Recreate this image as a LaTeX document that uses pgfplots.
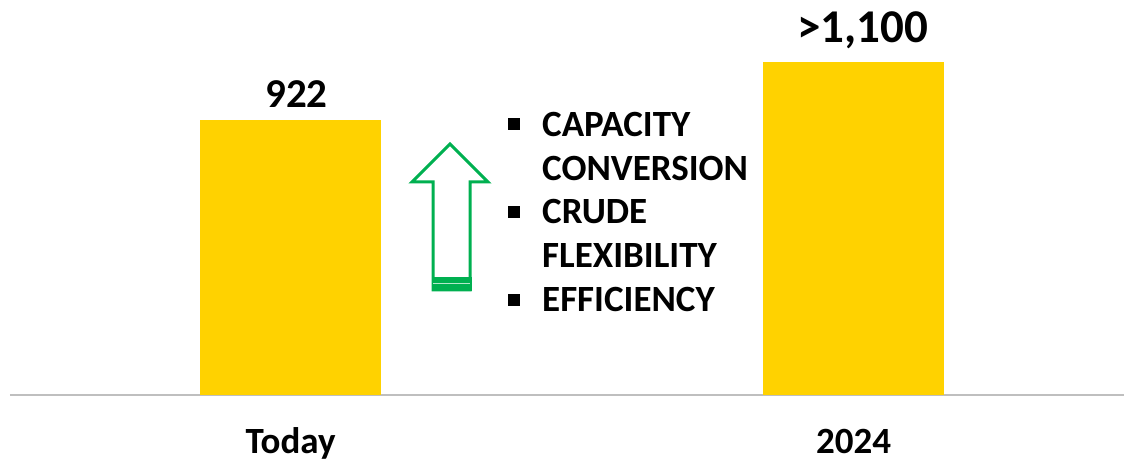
\documentclass[border=0pt]{standalone}
\usepackage{pgfplots}
\pgfplotsset{compat=1.18}
\usepackage{fontspec}
\setmainfont{Carlito}
\definecolor{baryellow}{HTML}{FFD200}
\definecolor{arrowgreen}{HTML}{00B050}
\definecolor{basegray}{HTML}{BFBFBF}
\begin{document}
\begin{tikzpicture}
\useasboundingbox (0pt,-68pt) rectangle (1124pt,395pt);
\begin{axis}[
  at={(10pt,0pt)}, anchor=south west,
  scale only axis, width=1114pt, height=395pt,
  xmin=10, xmax=1124, ymin=0, ymax=1324,
  axis x line*=bottom, hide y axis,
  x axis line style={basegray, line width=2pt},
  xtick={290.5,853.5}, xticklabels={Today,2024},
  xtick style={draw=none},
  xticklabel style={anchor=base, yshift=-54pt, font=\fontsize{37}{40}\selectfont\bfseries},
  clip=false,
  ybar, bar width=181pt, bar shift=0pt,
]
\addplot[fill=baryellow, draw=none, nodes near coords={922},
  every node near coord/.append style={anchor=base, yshift=12pt, xshift=6pt, font=\fontsize{41}{44}\selectfont\bfseries}]
  coordinates {(290.5,922)};
\addplot[fill=baryellow, draw=none, nodes near coords={>1,100},
  every node near coord/.append style={anchor=base, yshift=20pt, xshift=9pt, font=\fontsize{47}{50}\selectfont\bfseries}]
  coordinates {(853.5,1116)};
\end{axis}
\begin{scope}[x=1pt, y=-1pt, shift={(0pt,395pt)}]
  % arrow
  \draw[arrowgreen, line width=3pt, line join=miter]
    (433,290) -- (433,182) -- (412,182) -- (450,144) -- (488,182) -- (470,182) -- (470,290) -- cycle;
  \fill[arrowgreen] (431.5,277) rectangle (471.5,291.5);
  \draw[white!70!arrowgreen, line width=1pt] (433,283.5) -- (470,283.5);
  % bullets
  \foreach \yy in {124,212,300} {
    \fill[black] (508,\yy-6) rectangle (520,\yy+6);
  }
  \foreach \yy/\txt in {137/CAPACITY,181/CONVERSION,224/CRUDE,268/FLEXIBILITY,312/EFFICIENCY} {
    \node[anchor=base west, inner sep=0pt, font=\fontsize{37}{40}\selectfont\bfseries] at (542,\yy) {\txt};
  }
\end{scope}
\end{tikzpicture}
\end{document}
